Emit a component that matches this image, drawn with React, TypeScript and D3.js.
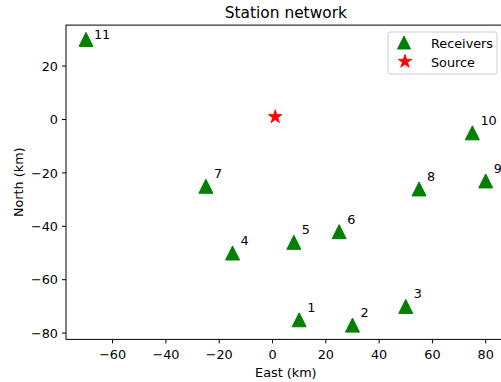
import React from "react";
import * as d3 from "d3";

// Receiver stations (km east / north of origin) and the source location
const stationIds = [1, 2, 3, 4, 5, 6, 7, 8, 9, 10, 11];
const stationEast = [10, 30, 50, -15, 8, 25, -25, 55, 80, 75, -70];
const stationNorth = [-75, -77, -70, -50, -46, -42, -25, -26, -23, -5, 30];
// label offset north of each station (km)
const labelLift = [3, 3, 3, 3, 3, 3, 3, 3, 3, 3, 0];
const sourceEast = [1];
const sourceNorth = [1];

const xTicks = [-60, -40, -20, 0, 20, 40, 60, 80];
const yTicks = [20, 0, -20, -40, -60, -80];

const W = 501;
const H = 382;
const FONT = "DejaVu Sans, sans-serif";
const GREEN = "#008000";
const RED = "#ff0000";
const FS = 12.8;
const TITLE_FS = 15.4;

const plot = { left: 66, top: 25.1, right: 505.7, bottom: 339.4 };

function trianglePath(cx: number, cy: number, s: number) {
  const h = s / 2;
  return `M${cx},${cy - h}L${cx - h},${cy + h}L${cx + h},${cy + h}Z`;
}

export default function App() {
  const x = d3.scaleLinear().domain([-77.5, 87.5]).range([plot.left, plot.right]);
  const y = d3.scaleLinear().domain([-82.35, 35.35]).range([plot.bottom, plot.top]);
  const star = d3.symbol().type(d3.symbolStar).size(58)();

  const legendX = 388;
  const legendY = 32;
  const fmt = (t: number) => (t < 0 ? `\u2212${-t}` : `${t}`);

  return (
    <svg
      width={W}
      height={H}
      style={{ position: "fixed", left: 0, top: 0, background: "#fff" }}
      fontFamily={FONT}
    >
      <rect x={0} y={0} width={W} height={H} fill="#fff" />

      {/* receivers */}
      {stationIds.map((id, i) => (
        <g key={id}>
          <path
            d={trianglePath(x(stationEast[i]), y(stationNorth[i]), 14)}
            fill={GREEN}
            stroke={GREEN}
            strokeWidth={1}
          />
          <text
            x={x(stationEast[i] + 3)}
            y={y(stationNorth[i] + labelLift[i])}
            fontSize={FS}
            fill="#000"
          >
            {id}
          </text>
        </g>
      ))}

      {/* source */}
      {sourceEast.map((e, i) => (
        <path
          key={i}
          d={star!}
          transform={`translate(${x(e)},${y(sourceNorth[i])})`}
          fill={RED}
          stroke={RED}
          strokeWidth={0.8}
        />
      ))}

      {/* spines */}
      <rect
        x={plot.left}
        y={plot.top}
        width={plot.right - plot.left}
        height={plot.bottom - plot.top}
        fill="none"
        stroke="#000"
        strokeWidth={1}
      />

      {/* x axis */}
      {xTicks.map((t) => (
        <g key={t}>
          <line x1={x(t)} x2={x(t)} y1={plot.bottom} y2={plot.bottom + 4} stroke="#000" />
          <text x={x(t)} y={plot.bottom + 19.5} fontSize={FS} textAnchor="middle">
            {fmt(t)}
          </text>
        </g>
      ))}
      <text x={(plot.left + plot.right) / 2} y={377} fontSize={FS} textAnchor="middle">
        East (km)
      </text>

      {/* y axis */}
      {yTicks.map((t) => (
        <g key={t}>
          <line x1={plot.left - 4} x2={plot.left} y1={y(t)} y2={y(t)} stroke="#000" />
          <text x={plot.left - 8} y={y(t)} dy="0.36em" fontSize={FS} textAnchor="end">
            {fmt(t)}
          </text>
        </g>
      ))}
      <text
        transform={`translate(23,${(plot.top + plot.bottom) / 2}) rotate(-90)`}
        fontSize={FS}
        textAnchor="middle"
      >
        North (km)
      </text>

      {/* title */}
      <text x={(plot.left + plot.right) / 2} y={18} fontSize={TITLE_FS} textAnchor="middle">
        Station network
      </text>

      {/* legend */}
      <g>
        <rect
          x={legendX}
          y={legendY}
          width={109}
          height={42}
          rx={2.5}
          fill="#fff"
          fillOpacity={0.8}
          stroke="#cccccc"
          strokeWidth={1}
        />
        <path d={trianglePath(legendX + 16, legendY + 10.5, 13)} fill={GREEN} stroke={GREEN} />
        <text x={legendX + 43} y={legendY + 16} fontSize={FS}>
          Receivers
        </text>
        <path
          d={star!}
          transform={`translate(${legendX + 17},${legendY + 29.5})`}
          fill={RED}
          stroke={RED}
          strokeWidth={0.8}
        />
        <text x={legendX + 43} y={legendY + 34.5} fontSize={FS}>
          Source
        </text>
      </g>
    </svg>
  );
}
